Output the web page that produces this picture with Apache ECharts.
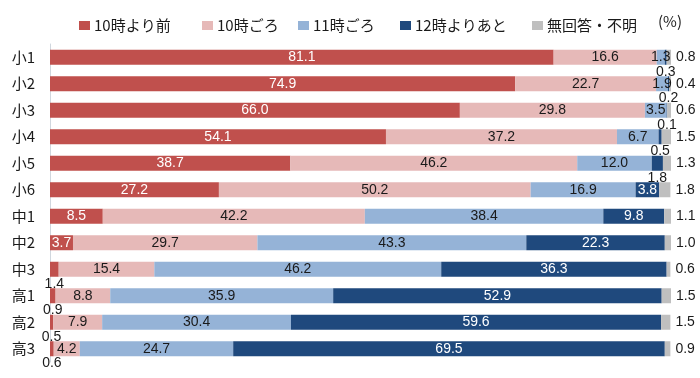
<!DOCTYPE html>
<html><head><meta charset="utf-8">
<script src="https://cdn.jsdelivr.net/npm/echarts@6/dist/echarts.min.js"></script>
<style>html,body{margin:0;padding:0;background:#fff}#c{width:700px;height:378px}</style>
</head><body><div id="c"></div>
<script>
const categories = ['小1','小2','小3','小4','小5','小6','中1','中2','中3','高1','高2','高3'];
const seriesNames = ['10時より前','10時ごろ','11時ごろ','12時よりあと','無回答・不明'];
const before10 = [81.1, 74.9, 66.0, 54.1, 38.7, 27.2, 8.5, 3.7, 1.4, 0.9, 0.5, 0.6];
const around10 = [16.6, 22.7, 29.8, 37.2, 46.2, 50.2, 42.2, 29.7, 15.4, 8.8, 7.9, 4.2];
const around11 = [1.3, 1.9, 3.5, 6.7, 12.0, 16.9, 38.4, 43.3, 46.2, 35.9, 30.4, 24.7];
const after12 = [0.3, 0.2, 0.1, 0.5, 1.8, 3.8, 9.8, 22.3, 36.3, 52.9, 59.6, 69.5];
const noAnswer = [0.8, 0.4, 0.6, 1.5, 1.3, 1.8, 1.1, 1.0, 0.6, 1.5, 1.5, 0.9];
const unitLabel = '(%)';

const colors = ['#C0504D','#E6B9B8','#95B3D7','#1F497D','#BFBFBF'];
const values = [before10, around10, around11, after12, noAnswer];
const numFont = 'Liberation Sans, Arial, sans-serif';
const jpFont = '"Noto Sans CJK JP", sans-serif';
const dark = '#1a1a1a';

function makeData(arr, idx) {
  return arr.map(v => {
    const item = { value: v };
    if ((idx === 0 || idx === 3) && v < 2) {
      item.label = { position: 'bottom', color: dark, distance: 0 };
    }
    return item;
  });
}

const series = values.map((arr, i) => ({
  name: seriesNames[i],
  type: 'bar',
  stack: 'total',
  barWidth: 15,
  itemStyle: { color: colors[i] },
  data: makeData(arr, i),
  label: {
    show: true,
    position: i === 4 ? 'right' : 'inside',
    distance: 5,
    color: (i === 0 || i === 3) ? '#fff' : dark,
    fontSize: 14,
    fontFamily: numFont,
    formatter: p => p.value.toFixed(1)
  },
  emphasis: { disabled: true }
}));

const legendLefts = [74, 197, 293, 395, 527];
const legends = seriesNames.map((n, i) => ({
  data: [n],
  left: legendLefts[i],
  top: 13,
  icon: 'rect',
  itemWidth: 11,
  itemHeight: 9,
  itemGap: 4,
  selectedMode: false,
  textStyle: { fontSize: 15, fontFamily: jpFont, color: dark, padding: [0,0,0,-1] }
}));

const chart = echarts.init(document.getElementById('c'), null, { renderer: 'canvas' });
chart.setOption({
  animation: false,
  color: colors,
  legend: legends,
  graphic: [{
    type: 'text', left: 658, top: 14,
    style: { text: unitLabel, fontSize: 15, fontFamily: jpFont, fill: dark }
  }],
  grid: { left: 50, right: 29, top: 44, bottom: 16, containLabel: false },
  xAxis: { type: 'value', min: 0, max: 100, show: false },
  yAxis: {
    type: 'category',
    data: categories,
    inverse: true,
    axisLine: { show: true, lineStyle: { color: '#D0D7DE', width: 1 } },
    axisTick: { show: false },
    axisLabel: { fontSize: 15, fontFamily: jpFont, color: dark, margin: 15 }
  },
  series: series
});
</script>
</body></html>
